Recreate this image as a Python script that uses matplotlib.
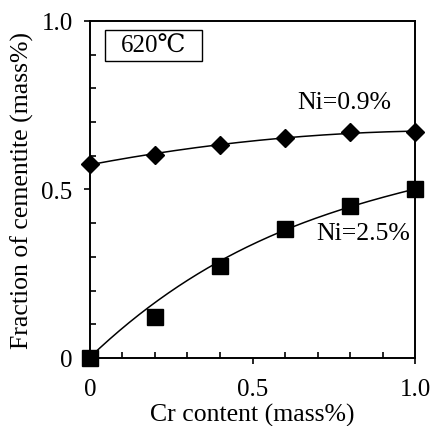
import numpy as np
import matplotlib
matplotlib.use('Agg')
from matplotlib import pyplot as plt
from matplotlib.ticker import MultipleLocator
from matplotlib.patches import Rectangle

plt.rcParams['font.family'] = ['Liberation Serif', 'DejaVu Serif']

cr = [0.0, 0.2, 0.4, 0.6, 0.8, 1.0]
ni09 = [0.576, 0.603, 0.632, 0.653, 0.672, 0.670]
ni25 = [0.0, 0.123, 0.272, 0.383, 0.452, 0.501]
# trend line values as drawn in the figure
ni25_trend = [0.0, 0.172, 0.28, 0.38, 0.452, 0.50]

fig = plt.figure(figsize=(4.31, 4.27), dpi=100)
ax = fig.add_axes([0.2088, 0.1593, 0.7541, 0.7892])

xs = np.linspace(0, 1, 200)
fit1 = np.polyfit(cr, ni09, 2)
fit2 = np.polyfit(cr, ni25_trend, 3)
ax.plot(xs, np.polyval(fit1, xs), color='black', lw=1.1, zorder=2)
ax.plot(xs, np.polyval(fit2, xs), color='black', lw=1.1, zorder=2)

ax.plot(cr, ni09, 'D', color='black', markersize=8.7, clip_on=False, zorder=3)
ax.plot(cr, ni25, 's', color='black', markersize=11.5, clip_on=False, zorder=3)

ax.set_xlim(0, 1.0)
ax.set_ylim(0, 1.0)
ax.set_xticks([0, 0.5, 1.0])
ax.set_xticklabels(['0', '0.5', '1.0'])
ax.set_yticks([0, 0.5, 1.0])
ax.set_yticklabels(['0', '0.5', '1.0'])
ax.xaxis.set_minor_locator(MultipleLocator(0.1))
ax.yaxis.set_minor_locator(MultipleLocator(0.1))
ax.tick_params(which='major', direction='out', length=4.5, width=1.2, labelsize=18)
ax.tick_params(axis='x', which='major', pad=10)
ax.tick_params(axis='y', which='major', pad=8)
ax.tick_params(which='minor', direction='in', length=4.5, width=1.2)
for s in ax.spines.values():
    s.set_linewidth(1.4)

ax.set_xlabel('Cr content (mass%)', fontsize=18.5, labelpad=2)
ax.set_ylabel('Fraction of cementite (mass%)', fontsize=18.5, labelpad=5)

ax.add_patch(Rectangle((0.046, 0.881), 0.299, 0.092, transform=ax.transAxes,
                       facecolor='white', edgecolor='black', lw=1.0, zorder=4))
ax.text(0.195, 0.927, '620℃', transform=ax.transAxes, fontsize=18,
        ha='center', va='center', zorder=5)
ax.text(0.637, 0.76, 'Ni=0.9%', fontsize=18.5, ha='left', va='center')
ax.text(0.695, 0.371, 'Ni=2.5%', fontsize=18.5, ha='left', va='center')

fig.savefig('out.png', dpi=100)
